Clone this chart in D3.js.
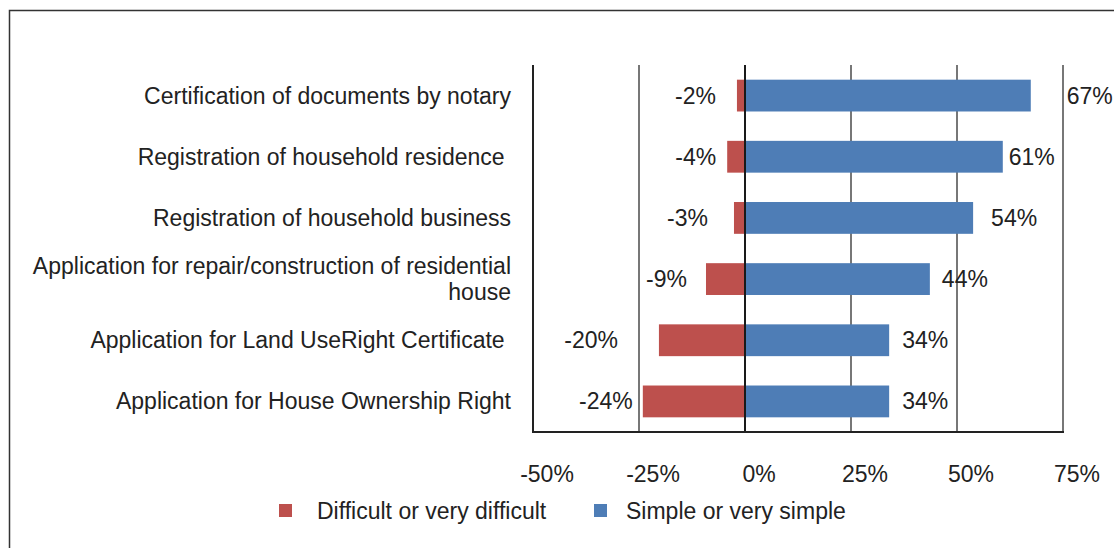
<!DOCTYPE html>
<html>
<head>
<meta charset="utf-8">
<script src="https://cdn.jsdelivr.net/npm/d3@7"></script>
<style>
  body { margin: 0; background: #fff; }
  svg text { font-family: "Liberation Sans", Arial, sans-serif; fill: #222; }
</style>
</head>
<body>
<svg id="chart" width="1114" height="548"></svg>
<script>
// data
var categories = [
    ["Certification of documents by notary"],
    ["Registration of household residence "],
    ["Registration of household business"],
    ["Application for repair/construction of residential", "house"],
    ["Application for Land UseRight Certificate "],
    ["Application for House Ownership Right"]
];
var difficult = [-1.9, -4.2, -2.6, -9.2, -20.3, -24.1];
var simple = [67.4, 60.8, 53.8, 43.6, 34.0, 34.0];
var tickValues = [-50, -25, 0, 25, 50, 75];
var seriesNames = ["Difficult or very difficult", "Simple or very simple"];
var colors = ["#BD504D", "#4E7DB6"];

// layout
var svg = d3.select("#chart");
var plotLeft = 533, plotRight = 1063, plotTop = 65, plotBottom = 432;
var fontSize = "23px";
// labels were hand-moved in the original, gap in px from the bar end
var gapNeg = [21, 11, 26, 19, 41, 10];
var gapPos = [36, 6, 18, 12, 13, 13];

var x = d3.scaleLinear().domain([-50, 75]).range([plotLeft, plotRight]);
var y = d3.scaleBand().domain(d3.range(categories.length)).range([plotTop, plotBottom]).paddingInner(0.48).paddingOuter(0.24);

// outer frame (only top and left edges show)
svg.append("path")
    .attr("d", "M9.5,548 V10.5 H1114")
    .attr("fill", "none")
    .attr("stroke", "#333")
    .attr("stroke-width", 1.5);

// gridlines
svg.selectAll("line.grid")
    .data(tickValues.filter(function(d) { return d !== -50; }))
    .enter()
    .append("line")
    .attr("class", "grid")
    .attr("x1", function(d) { return x(d); })
    .attr("x2", function(d) { return x(d); })
    .attr("y1", plotTop)
    .attr("y2", plotBottom)
    .attr("stroke", "#4a4a4a")
    .attr("stroke-width", 1.5);

// bars
function drawBars(values, color) {
    svg.append("g").selectAll("rect")
        .data(values)
        .enter()
        .append("rect")
        .attr("x", function(d) { return Math.min(x(0), x(d)); })
        .attr("y", function(d, i) { return y(i); })
        .attr("width", function(d) { return Math.abs(x(d) - x(0)); })
        .attr("height", y.bandwidth())
        .attr("fill", color);
}
drawBars(difficult, colors[0]);
drawBars(simple, colors[1]);

// zero line on top of bars
svg.append("line")
    .attr("x1", x(0)).attr("x2", x(0))
    .attr("y1", plotTop).attr("y2", plotBottom)
    .attr("stroke", "#1a1a1a")
    .attr("stroke-width", 2);

// axes lines
svg.append("line")
    .attr("x1", plotLeft).attr("x2", plotLeft)
    .attr("y1", plotTop).attr("y2", plotBottom + 1)
    .attr("stroke", "#222").attr("stroke-width", 2);
svg.append("line")
    .attr("x1", plotLeft).attr("x2", plotRight + 1)
    .attr("y1", plotBottom).attr("y2", plotBottom)
    .attr("stroke", "#222").attr("stroke-width", 2);

// value labels
svg.append("g").selectAll("text")
    .data(difficult)
    .enter()
    .append("text")
    .attr("x", function(d, i) { return x(d) - gapNeg[i]; })
    .attr("y", function(d, i) { return y(i) + y.bandwidth() / 2; })
    .attr("dy", "0.35em")
    .attr("text-anchor", "end")
    .style("font-size", fontSize)
    .text(function(d) { return Math.round(d) + "%"; });

svg.append("g").selectAll("text")
    .data(simple)
    .enter()
    .append("text")
    .attr("x", function(d, i) { return x(d) + gapPos[i]; })
    .attr("y", function(d, i) { return y(i) + y.bandwidth() / 2; })
    .attr("dy", "0.35em")
    .attr("text-anchor", "start")
    .style("font-size", fontSize)
    .text(function(d) { return Math.round(d) + "%"; });

// category labels
var cat = svg.append("g").selectAll("text")
    .data(categories)
    .enter()
    .append("text")
    .attr("text-anchor", "end")
    .style("font-size", fontSize)
    .style("white-space", "pre")
    .attr("y", function(d, i) { return y(i) + y.bandwidth() / 2; });

cat.selectAll("tspan")
    .data(function(d) { return d.map(function(s, k) { return {s: s, k: k, n: d.length}; }); })
    .enter()
    .append("tspan")
    .attr("x", 511)
    .attr("dy", function(t) { return t.k === 0 ? (0.35 - (t.n - 1) * 0.565) + "em" : "1.13em"; })
    .text(function(t) { return t.s; });

// tick labels
svg.append("g").selectAll("text")
    .data(tickValues)
    .enter()
    .append("text")
    .attr("x", function(d) { return x(d) + 14; })
    .attr("y", 482)
    .attr("text-anchor", "middle")
    .style("font-size", fontSize)
    .text(function(d) { return d + "%"; });

// legend
var legendX = [279, 594];
var legendTextX = [38, 32];
var legend = svg.append("g").selectAll("g")
    .data(seriesNames)
    .enter()
    .append("g")
    .attr("transform", function(d, i) { return "translate(" + legendX[i] + ",504)"; });
legend.append("rect")
    .attr("width", 13).attr("height", 13)
    .attr("fill", function(d, i) { return colors[i]; });
legend.append("text")
    .attr("x", function(d, i) { return legendTextX[i]; })
    .attr("y", 6.5)
    .attr("dy", "0.35em")
    .style("font-size", fontSize)
    .text(function(d) { return d; });
</script>
</body>
</html>
